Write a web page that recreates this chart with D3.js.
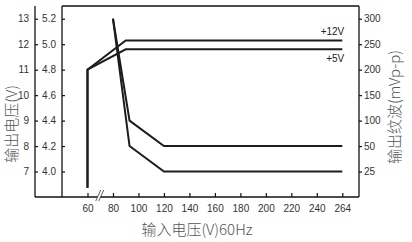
<!DOCTYPE html>
<html><head><meta charset="utf-8">
<script src="https://cdn.jsdelivr.net/npm/d3@7"></script>
<style>
html,body{margin:0;padding:0;background:#fff;}
svg{display:block;}
.tk{font-family:"Liberation Sans Narrow","Arial Narrow","Liberation Sans",Arial,sans-serif;font-size:10px;fill:#333;}
.ttl{font-family:"Noto Sans CJK SC","Liberation Sans",sans-serif;font-size:15px;font-weight:300;fill:#555;}
.lbl{font-family:"Liberation Sans",Arial,sans-serif;font-size:10px;fill:#222;}
</style></head>
<body>
<script>
// ---- data ----
const xTicks = [60, 80, 100, 120, 140, 160, 180, 200, 220, 240, 264];
const y12Ticks = [7, 8, 9, 10, 11, 12, 13];
const y5Ticks = [4.0, 4.2, 4.4, 4.6, 4.8, 5.0, 5.2];
const rippleTicks = [25, 50, 100, 150, 200, 250, 300];

const vout12X = [60, 60, 90, 264];
const vout12Y = [6.37, 11, 12.15, 12.15];
const vout5X = [60, 60, 90, 264];
const vout5Y = [3.87, 4.8, 4.96, 4.96];

const ripple12X = [80, 93, 120, 264];
const ripple12Y = [300, 100, 50, 50];
const ripple5X = [80, 93, 120, 264];
const ripple5Y = [300, 50, 25, 25];

const seriesLabels = ["+12V", "+5V"];
const titles = {left: "输出电压(V)", right: "输出纹波(mVp-p)", bottom: "输入电压(V)60Hz"};

// ---- layout ----
const W = 412, H = 242;
const L = 62, R = 359, T = 6, B = 197, OUT = 35;
const x0 = 87.5, step = 25.48;

const svg = d3.select("body").append("svg").attr("width", W).attr("height", H);

const x = d3.scaleLinear()
  .domain([60, 80, 240, 264])
  .range([x0, x0 + step, x0 + 9 * step, x0 + 10 * step]);
const y12 = d3.scaleLinear().domain([6, 13.5]).range([B, T]);
const y5 = d3.scaleLinear().domain([3.8, 5.3]).range([B, T]);
const yR = d3.scaleLinear().domain([25, 50, 300]).range([y12(7), y12(8), y12(13)]);

// frame
const frame = svg.append("g").attr("stroke", "#111").attr("stroke-width", 1.3).attr("fill", "none");
frame.append("line").attr("x1", L).attr("x2", R).attr("y1", T).attr("y2", T);
frame.append("line").attr("x1", R).attr("x2", R).attr("y1", T).attr("y2", B);
frame.append("line").attr("x1", L).attr("x2", L).attr("y1", T).attr("y2", B);
frame.append("line").attr("x1", OUT).attr("x2", OUT).attr("y1", T).attr("y2", B);
frame.append("line").attr("x1", OUT).attr("x2", R).attr("y1", B).attr("y2", B);

function styleAxis(g) {
  g.select(".domain").remove();
  g.selectAll(".tick line").attr("stroke", "#111").attr("stroke-width", 1.2);
  g.selectAll(".tick text").attr("class", "tk").attr("fill", null);
}

// outer left (12V) axis
svg.append("g").attr("transform", `translate(${OUT},0)`)
  .call(d3.axisLeft(y12).tickValues(y12Ticks).tickSize(-3).tickPadding(6).tickFormat(d3.format("d")))
  .call(styleAxis);
// inner left (5V) axis
svg.append("g").attr("transform", `translate(${L},0)`)
  .call(d3.axisLeft(y5).tickValues(y5Ticks).tickSize(-3).tickPadding(6).tickFormat(d3.format(".1f")))
  .call(styleAxis);
// right ripple axis
svg.append("g").attr("transform", `translate(${R},0)`)
  .call(d3.axisRight(yR).tickValues(rippleTicks).tickSize(3).tickPadding(2).tickFormat(d3.format("d")))
  .call(styleAxis);
// bottom axis
svg.append("g").attr("transform", `translate(0,${B})`)
  .call(d3.axisBottom(x).tickValues(xTicks).tickSize(-4).tickPadding(8).tickFormat(d3.format("d")))
  .call(styleAxis);

// axis break marker
const bx = (x(60) + x(80)) / 2 - 0.5;
const brk = svg.append("g");
brk.append("polygon")
  .attr("points", `${bx - 4},${B + 4} ${bx - 1},${B + 4} ${bx + 4},${B - 7} ${bx + 1},${B - 7}`)
  .attr("fill", "#fff");
brk.append("line").attr("x1", bx - 4).attr("y1", B + 4).attr("x2", bx + 1).attr("y2", B - 7)
  .attr("stroke", "#333").attr("stroke-width", 0.8);
brk.append("line").attr("x1", bx - 1).attr("y1", B + 4).attr("x2", bx + 4).attr("y2", B - 7)
  .attr("stroke", "#333").attr("stroke-width", 0.8);

// lines
function drawLine(xs, ys, ys_scale) {
  const pts = xs.map((d, i) => [x(d), ys_scale(ys[i])]);
  svg.append("path").attr("d", d3.line()(pts))
    .attr("fill", "none").attr("stroke", "#1c1c1c").attr("stroke-width", 2)
    .attr("stroke-linejoin", "miter");
}
drawLine(vout12X, vout12Y, y12);
drawLine(vout5X, vout5Y, y5);
drawLine(ripple12X, ripple12Y, yR);
drawLine(ripple5X, ripple5Y, yR);

// series labels
svg.append("text").attr("class", "lbl").attr("x", x(264) + 2).attr("y", y12(12.15) - 5)
  .attr("text-anchor", "end").text(seriesLabels[0]);
svg.append("text").attr("class", "lbl").attr("x", x(264) + 2).attr("y", y5(4.96) + 13)
  .attr("text-anchor", "end").text(seriesLabels[1]);

// titles
svg.append("text").attr("class", "ttl").attr("transform", `translate(17,124) rotate(-90)`)
  .attr("text-anchor", "middle").text(titles.left);
svg.append("text").attr("class", "ttl").attr("transform", `translate(400,107) rotate(-90)`)
  .attr("text-anchor", "middle").text(titles.right);
svg.append("text").attr("class", "ttl").attr("x", 197).attr("y", 235)
  .attr("text-anchor", "middle").text(titles.bottom);
</script>
</body></html>
